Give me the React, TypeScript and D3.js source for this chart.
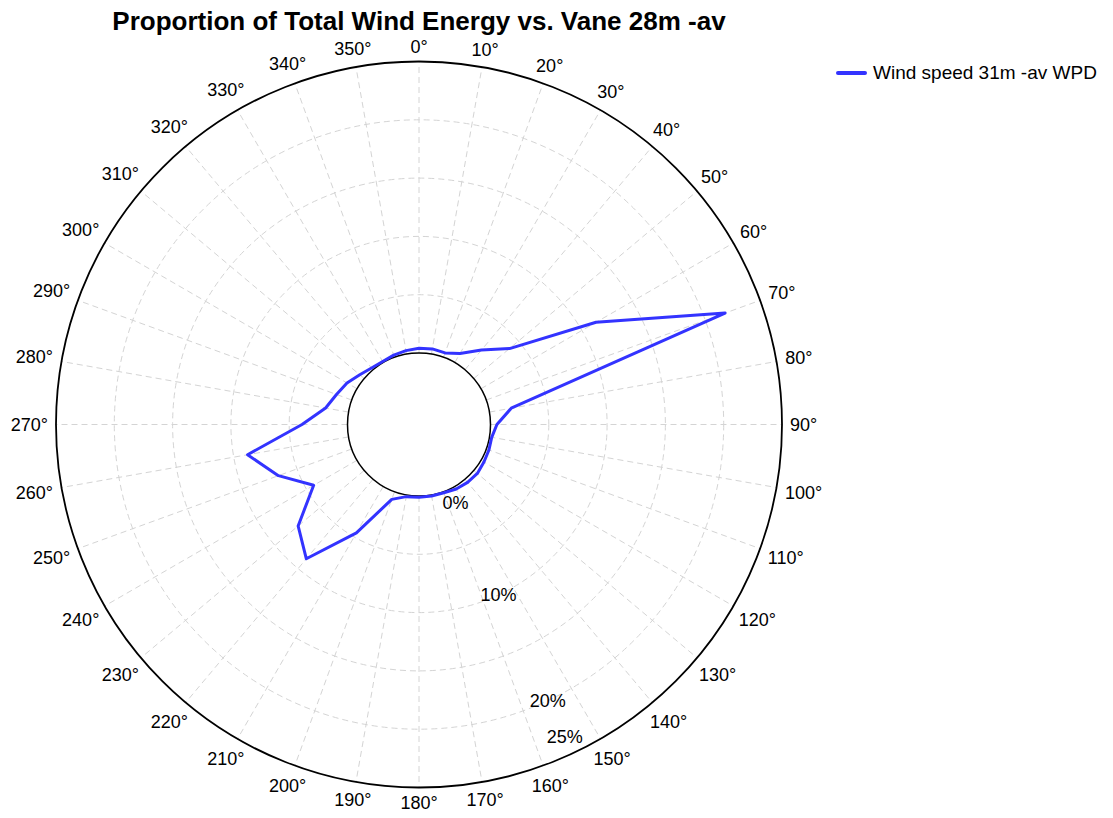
import { useEffect, useRef } from "react";
import * as d3 from "d3";

// wind direction bins (degrees, clockwise from north)
const directions = [
  0, 10, 20, 30, 40, 50, 60, 70, 80, 90, 100, 110, 120, 130, 140, 150, 160, 170,
  180, 190, 200, 210, 220, 230, 240, 250, 260, 270, 280, 290, 300, 310, 320, 330, 340, 350,
];

// proportion of total wind energy per bin (%)
const energyShare = [
  0.4, 0.45, 0.4, 0.9, 2.2, 4.0, 11.4, 21.8, 1.9, 0.55, 0.2, 0.25, 0.3, 0.4, 0.35, 0.25, 0.1, 0.1,
  0.1, 0.15, 0.7, 4.6, 8.9, 7.4, 4.3, 6.7, 8.8, 3.9, 2.0, 1.4, 1.0, 0.5, 0.2, 0.1, 0.2, 0.3,
];

const radialTicks = [0, 10, 20, 25];
const gridRings = [5, 10, 15, 20];

const title = "Proportion of Total Wind Energy vs. Vane 28m -av";
const seriesName = "Wind speed 31m -av WPD";

const App = () => {
  const ref = useRef<SVGSVGElement | null>(null);

  useEffect(() => {
    document.body.style.margin = "0";
    const svg = d3.select(ref.current);
    svg.selectAll("*").remove();

    const cx = 419;
    const cy = 424.5;
    const innerR = 71.5;
    const outerR = 363;
    const font = "'Liberation Sans', Arial, sans-serif";
    const lineColor = "#3333ff";

    const r = d3.scaleLinear().domain([0, 25]).range([innerR, outerR]);
    const rad = (deg: number) => (deg * Math.PI) / 180;

    const g = svg.append("g").attr("transform", `translate(${cx},${cy})`);

    // dashed rings
    g.selectAll(".ring")
      .data(gridRings)
      .enter()
      .append("circle")
      .attr("r", (d) => r(d))
      .attr("fill", "none")
      .attr("stroke", "#d4d4d4")
      .attr("stroke-width", 1)
      .attr("stroke-dasharray", "6,4");

    // dashed spokes
    g.selectAll(".spoke")
      .data(directions)
      .enter()
      .append("line")
      .attr("x1", (d) => r(0) * Math.sin(rad(d)))
      .attr("y1", (d) => -r(0) * Math.cos(rad(d)))
      .attr("x2", (d) => r(25) * Math.sin(rad(d)))
      .attr("y2", (d) => -r(25) * Math.cos(rad(d)))
      .attr("stroke", "#d4d4d4")
      .attr("stroke-width", 1)
      .attr("stroke-dasharray", "6,4");

    // inner + outer circles
    g.append("circle").attr("r", r(0)).attr("fill", "none").attr("stroke", "#000").attr("stroke-width", 1.5);
    g.append("circle").attr("r", r(25)).attr("fill", "none").attr("stroke", "#000").attr("stroke-width", 1.8);

    // angle labels
    directions.forEach((d) => {
      const t = g
        .append("text")
        .attr("font-family", font)
        .attr("font-size", "18px")
        .attr("fill", "#000")
        .attr("text-anchor", "middle")
        .attr("dy", "0.35em")
        .text(`${d}°`);
      const w = (t.node() as SVGTextElement).getComputedTextLength();
      const s = Math.sin(rad(d));
      const c = Math.cos(rad(d));
      const dist = outerR + 8 + (w / 2) * Math.abs(s) + 7 * Math.abs(c);
      t.attr("x", dist * s).attr("y", -dist * c);
    });

    // radial axis labels along 155°
    const labelAngle = rad(155);
    const labelR = (d: number) => Math.max(innerR + 15, Math.min(outerR - 18, r(d)));
    g.selectAll(".rlabel")
      .data(radialTicks)
      .enter()
      .append("text")
      .attr("font-family", font)
      .attr("font-size", "18px")
      .attr("fill", "#000")
      .attr("text-anchor", "middle")
      .attr("dy", "0.35em")
      .attr("x", (d) => labelR(d) * Math.sin(labelAngle))
      .attr("y", (d) => -labelR(d) * Math.cos(labelAngle))
      .text((d) => `${d}%`);

    // data line
    const line = d3
      .lineRadial<number>()
      .angle((_, i) => rad(directions[i]))
      .radius((d) => r(d))
      .curve(d3.curveLinearClosed);

    g.append("path")
      .datum(energyShare)
      .attr("d", line)
      .attr("fill", "none")
      .attr("stroke", lineColor)
      .attr("stroke-width", 3)
      .attr("stroke-linejoin", "round");

    // title
    svg
      .append("text")
      .attr("x", cx)
      .attr("y", 30)
      .attr("text-anchor", "middle")
      .attr("font-family", font)
      .attr("font-size", "26px")
      .attr("font-weight", "bold")
      .attr("fill", "#000")
      .text(title);

    // legend
    svg
      .append("line")
      .attr("x1", 838)
      .attr("x2", 865)
      .attr("y1", 73)
      .attr("y2", 73)
      .attr("stroke", lineColor)
      .attr("stroke-width", 4)
      .attr("stroke-linecap", "round");
    svg
      .append("text")
      .attr("x", 873)
      .attr("y", 79)
      .attr("font-family", font)
      .attr("font-size", "19px")
      .attr("fill", "#000")
      .text(seriesName);
  }, []);

  return <svg ref={ref} width={1113} height={818} style={{ display: "block", background: "#fff" }} />;
};

export default App;
